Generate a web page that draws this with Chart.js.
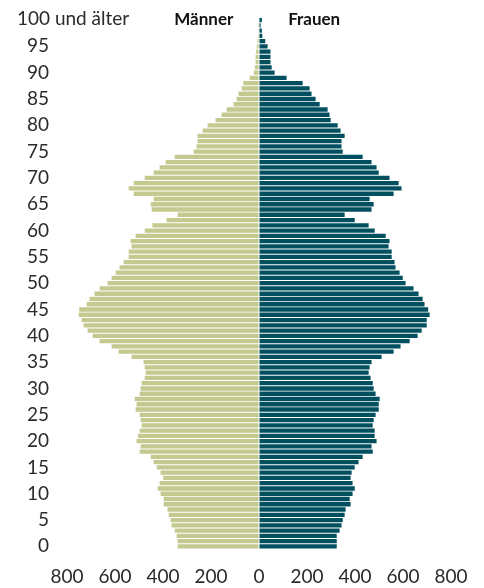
<!DOCTYPE html>
<html>
<head>
<meta charset="utf-8">
<script src="https://cdn.jsdelivr.net/npm/chart.js@4/dist/chart.umd.min.js"></script>
<style>
  html, body { margin: 0; padding: 0; background: #fff; }
  #wrap { width: 484px; height: 588px; position: relative; }
</style>
</head>
<body>
<div id="wrap"><canvas id="pyramid" width="484" height="588"></canvas></div>
<script>
// ages 0 .. 99, last one is "100 und älter"
const ages = [];
for (let a = 0; a < 100; a++) ages.push(String(a));
ages.push('100 und älter');

// population in thousands, index = age
const maenner = [
  339, 339, 343, 351, 364, 368, 376, 381, 397, 397,
  410, 422, 414, 399, 410, 426, 439, 451, 497, 493,
  510, 504, 497, 489, 493, 497, 514, 510, 518, 497,
  493, 489, 476, 472, 476, 481, 531, 585, 614, 664,
  693, 714, 731, 739, 751, 749, 718, 706, 685, 664,
  631, 614, 597, 581, 564, 543, 543, 531, 535, 514,
  476, 444, 385, 339, 447, 451, 439, 522, 543, 522,
  476, 439, 414, 389, 351, 272, 260, 256, 256, 235,
  214, 181, 156, 135, 106, 93, 85, 72, 65, 39,
  21, 17, 14, 14, 12, 9, 6, 4, 1, 1,
  2
];
const frauen = [
  324, 324, 324, 336, 344, 349, 357, 361, 382, 378,
  390, 399, 390, 382, 386, 399, 415, 432, 474, 469,
  490, 482, 482, 474, 478, 486, 499, 499, 503, 486,
  478, 474, 465, 457, 461, 469, 511, 561, 590, 628,
  661, 678, 699, 699, 711, 705, 690, 682, 665, 644,
  611, 599, 586, 569, 565, 553, 553, 540, 544, 528,
  482, 457, 399, 357, 469, 478, 461, 561, 594, 582,
  544, 499, 490, 469, 432, 349, 344, 344, 357, 340,
  328, 299, 294, 286, 253, 236, 219, 211, 182, 115,
  65, 53, 48, 48, 48, 36, 26, 14, 12, 7,
  12
];

const xTicks = [-800, -600, -400, -200, 0, 200, 400, 600, 800];

Chart.defaults.font.family = 'Lato, "Noto Sans", sans-serif';
Chart.defaults.font.size = 19;
Chart.defaults.color = '#2b2b2b';

// headings and the top age label
const labels = {
  id: 'pyramid_labels',
  afterDraw: (chart) => {
    const ctx = chart.ctx;
    const x = chart.scales.x;
    const y = chart.scales.y;
    const top = y.getPixelForValue(100);
    ctx.save();
    ctx.fillStyle = '#111';
    ctx.font = 'bold 17px Lato, "Noto Sans", sans-serif';
    ctx.textAlign = 'center';
    ctx.textBaseline = 'middle';
    ctx.fillText('Männer', x.getPixelForValue(-230), top - 1);
    ctx.fillText('Frauen', x.getPixelForValue(230), top - 1);
    ctx.fillStyle = '#2b2b2b';
    ctx.font = '19px Lato, "Noto Sans", sans-serif';
    ctx.textAlign = 'left';
    ctx.fillText(ages[100], 17, top - 1);
    ctx.restore();
  }
};

const chart = new Chart(document.getElementById('pyramid'), {
  type: 'bar',
  data: {
    labels: ages,
    datasets: [
      {
        label: 'Männer',
        data: maenner.map(v => -v),
        backgroundColor: '#c4c98f',
        borderWidth: 0
      },
      {
        label: 'Frauen',
        data: frauen,
        backgroundColor: '#02505f',
        borderWidth: 0
      }
    ]
  },
  options: {
    indexAxis: 'y',
    responsive: false,
    animation: false,
    layout: { padding: { top: 17, right: 9, left: 0, bottom: 0 } },
    datasets: { bar: { barPercentage: 0.82, categoryPercentage: 1 } },
    plugins: {
      legend: { display: false },
      tooltip: { enabled: false }
    },
    scales: {
      x: {
        stacked: true,
        min: -850,
        max: 900,
        z: 1,
        border: { display: false },
        grid: { color: '#ffffff', lineWidth: 1, drawTicks: false },
        afterBuildTicks: (scale) => {
          const t = [];
          for (let v = -800; v <= 800; v += 100) t.push({ value: v });
          scale.ticks = t;
        },
        afterFit: (scale) => { scale.height = 39; },
        ticks: {
          padding: 16,
          autoSkip: false,
          maxRotation: 0,
          callback: (v) => xTicks.includes(v) ? String(Math.abs(v)) : ''
        }
      },
      y: {
        stacked: true,
        reverse: true,
        border: { display: false },
        grid: { display: false, drawTicks: false },
        afterFit: (scale) => { scale.width = 55; },
        ticks: {
          padding: 6,
          autoSkip: false,
          callback: (v, i) => (i % 5 === 0 && i < 100) ? ages[i] : ''
        }
      }
    }
  },
  plugins: [labels]
});
</script>
</body>
</html>
